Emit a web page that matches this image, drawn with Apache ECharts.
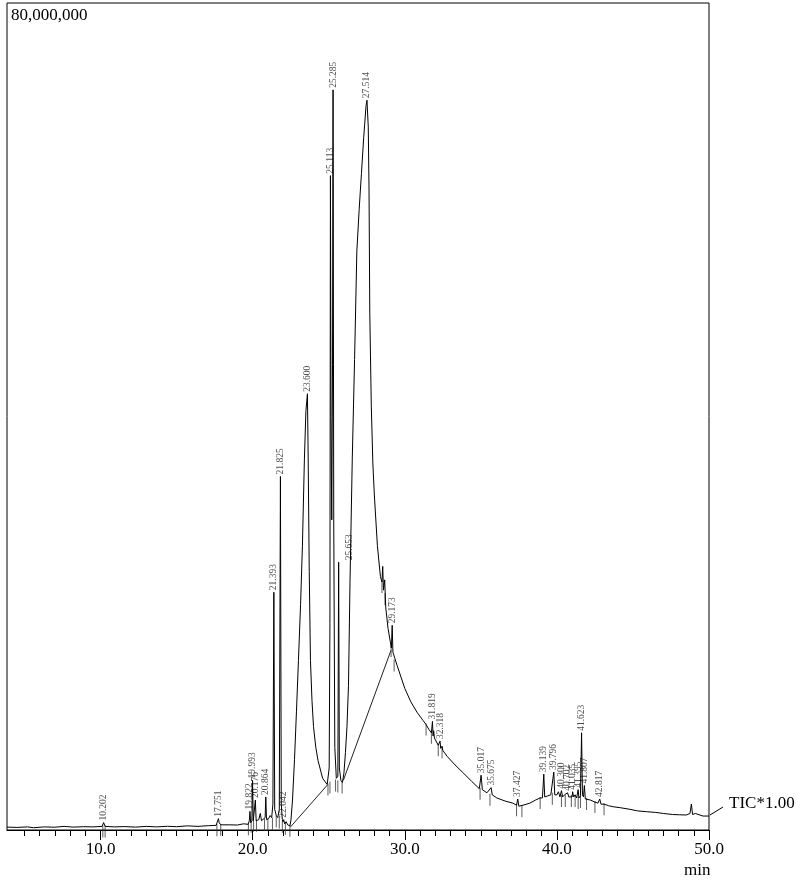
<!DOCTYPE html>
<html>
<head>
<meta charset="utf-8">
<style>
  html, body { margin: 0; padding: 0; background: #fff; }
  #chart { width: 800px; height: 887px; }
</style>
<script src="https://cdn.jsdelivr.net/npm/echarts@6/dist/echarts.min.js"></script>
</head>
<body>
<div id="chart"></div>
<script>
// TIC trace, retention time (min) vs abundance (millions of counts)
const TIC_TIME = [
  3.85, 4.5, 5.2, 5.6, 6.3, 7.0, 7.6, 8.2, 8.9, 9.5, 10.1, 10.202, 10.3, 10.9, 11.6, 12.3, 13.0, 13.7, 14.4, 15.0,
  15.7, 16.4, 17.1, 17.6, 17.7, 17.751, 17.8, 17.9, 18.5, 19.0, 19.4, 19.7, 19.78, 19.822, 19.87, 19.95, 19.993, 20.04, 20.12, 20.176,
  20.23, 20.4, 20.5, 20.58, 20.7, 20.82, 20.864, 20.91, 21.05, 21.15, 21.25, 21.33, 21.393, 21.45, 21.55, 21.65, 21.75, 21.825, 21.88, 21.95,
  22.0, 22.042, 22.1, 22.2, 22.3, 22.45, 22.52, 22.62, 22.75, 22.88, 23.01, 23.15, 23.27, 23.4, 23.5, 23.6, 23.65, 23.72, 23.8, 23.9,
  24.0, 24.15, 24.3, 24.6, 24.9, 25.03, 25.08, 25.113, 25.15, 25.2, 25.25, 25.285, 25.33, 25.4, 25.5, 25.6, 25.653, 25.7, 25.8, 25.9, 26.0,
  26.1, 26.2, 26.3, 26.4, 26.55, 26.7, 26.85, 27.0, 27.15, 27.3, 27.45, 27.514, 27.6, 27.65, 27.7, 27.8, 27.9, 28.0, 28.2, 28.4,
  28.5, 28.55, 28.6, 28.68, 28.75, 28.9, 29.05, 29.12, 29.173, 29.22, 29.35, 29.5, 29.75, 30.0, 30.4, 30.8, 31.2, 31.4, 31.6, 31.75,
  31.819, 31.86, 31.9, 31.95, 32.2, 32.318, 32.36, 32.45, 32.5, 32.8, 33.3, 33.86, 34.4, 34.9, 35.017, 35.1, 35.4, 35.675, 35.75, 36.05,
  36.6, 37.1, 37.35, 37.427, 37.5, 37.6, 37.9, 38.23, 38.6, 38.9, 39.05, 39.139, 39.2, 39.4, 39.6, 39.7, 39.796, 39.86, 40.0, 40.1,
  40.2, 40.3, 40.38, 40.5, 40.6, 40.702, 40.78, 40.9, 41.0, 41.035, 41.1, 41.2, 41.3, 41.395, 41.45, 41.55, 41.623, 41.68, 41.75, 41.807,
  41.87, 42.0, 42.2, 42.5, 42.7, 42.817, 42.9, 43.1, 43.4, 43.7, 44.2, 44.8, 45.3, 45.9, 46.5, 47.0, 47.6, 48.07, 48.5, 48.75,
  48.84, 48.92, 49.1, 49.2, 49.6, 50.0
];
const TIC_ABUND = [
  0.28, 0.25, 0.3, 0.22, 0.3, 0.27, 0.35, 0.28, 0.32, 0.3, 0.35, 0.72, 0.35, 0.3, 0.33, 0.28, 0.35, 0.3, 0.36, 0.32,
  0.4, 0.35, 0.42, 0.45, 0.9, 1.1, 0.7, 0.5, 0.5, 0.48, 0.6, 0.55, 0.9, 1.8, 0.7, 0.9, 4.8, 0.9, 1.0, 2.9,
  0.9, 1.0, 1.6, 0.9, 1.0, 1.2, 3.2, 1.0, 1.1, 1.4, 1.2, 2.5, 23.0, 2.0, 1.4, 1.2, 2.0, 34.2, 2.5, 1.0,
  0.8, 1.0, 0.6, 0.8, 0.5, 0.4, 1.0, 2.9, 6.8, 11.5, 16.4, 21.8, 27.4, 35.8, 40.5, 42.2, 36, 25, 16.4, 12.5,
  10, 8, 6.7, 5.0, 4.4, 6, 20, 63.3, 40, 30, 45, 71.6, 30, 8, 5, 5.2, 25.9, 6, 4.8, 4.6, 5.5,
  7.5, 10, 14, 24, 36, 45.5, 56, 60, 63.5, 67, 70, 70.6, 68, 62, 50, 41, 35.5, 32.4, 27.5, 24.5,
  24, 25.5, 23.2, 24.2, 21.5, 19.5, 18.2, 17.6, 19.8, 17.2, 16.6, 15.9, 14.8, 13.7, 12.4, 11.4, 10.6, 10.2, 9.7, 9.4,
  10.5, 9.1, 9.6, 8.9, 8.2, 8.6, 7.9, 8.1, 7.7, 7.1, 6.3, 5.5, 4.7, 4.0, 5.3, 3.9, 3.6, 4.1, 3.4, 3.1,
  2.8, 2.6, 2.4, 3.0, 2.3, 2.3, 2.45, 2.6, 2.9, 3.1, 3.1, 5.4, 3.2, 3.3, 3.4, 3.5, 5.6, 3.4, 3.4, 3.7,
  3.2, 3.8, 3.2, 3.4, 3.3, 3.6, 3.2, 3.3, 3.2, 3.7, 3.2, 3.4, 3.1, 3.9, 3.1, 3.3, 9.4, 3.4, 3.2, 4.3,
  3.0, 3.1, 2.9, 2.7, 2.6, 3.0, 2.5, 2.5, 2.35, 2.25, 2.15, 2.0, 1.85, 1.77, 1.7, 1.6, 1.5, 1.47, 1.45, 1.6,
  2.5, 1.5, 1.6, 1.45, 1.35, 1.35
];

// labelled peaks
const PEAK_RT = [10.202, 17.751, 19.822, 19.993, 20.176, 20.864, 21.393, 21.825, 22.042, 23.600,
  25.113, 25.285, 25.653, 27.514, 29.173, 31.819, 32.318, 35.017, 35.675, 37.427,
  39.139, 39.796, 40.300, 40.702, 41.035, 41.395, 41.623, 41.807, 42.817];
const PEAK_TOP = [0.72, 1.1, 1.8, 4.8, 2.9, 3.2, 23.0, 34.2, 1.0, 42.2,
  63.3, 71.6, 25.9, 70.6, 19.8, 10.5, 8.6, 5.3, 4.1, 3.0,
  5.4, 5.6, 3.8, 3.6, 3.7, 3.9, 9.4, 4.3, 3.0];
const PEAK_NAME = ["10.202", "17.751", "19.822", "19.993", "20.176", "20.864", "21.393", "21.825", "22.042", "23.600",
  "25.113", "25.285", "25.653", "27.514", "29.173", "31.819", "32.318", "35.017", "35.675", "37.427",
  "39.139", "39.796", "40.300", "40.702", "41.035", "41.395", "41.623", "41.807", "42.817"];

// integration start/end marks
const MARK_RT = [10.15, 10.3, 17.65, 17.9, 19.72, 19.9, 20.06, 20.25, 20.78, 21.0, 21.3, 21.55, 21.75, 21.95, 22.15, 22.45,
  24.95, 25.08, 25.45, 25.6, 25.88, 28.5, 28.7, 29.1, 29.3, 31.4, 31.75, 32.2, 32.45,
  34.95, 35.6, 37.35, 37.7, 38.9, 39.7, 40.3, 40.55, 40.95, 41.2, 41.4, 41.55, 41.95, 42.5, 43.1];
const MARK_Y = [0.35, 0.35, 0.45, 0.5, 0.55, 0.8, 0.9, 0.9, 1.0, 1.0, 1.1, 1.3, 1.2, 0.8, 0.6, 0.4,
  4.4, 4.6, 4.8, 4.7, 4.6, 24.0, 22.8, 17.8, 16.4, 10.2, 9.4, 8.2, 8.0,
  4.0, 3.4, 2.4, 2.3, 3.1, 3.5, 3.3, 3.3, 3.3, 3.3, 3.1, 3.2, 3.0, 2.7, 2.5];

// drawn integration baselines
const BASE_FROM = [[22.49, 0.3], [25.96, 4.8]];
const BASE_TO = [[24.91, 4.35], [29.1, 17.4]];

const MINOR_TICKS = [5, 6, 7, 8, 9, 10, 11, 12, 13, 14, 15, 16, 17, 18, 19, 20, 21, 22, 23, 24, 25, 26, 27,
  28, 29, 30, 31, 32, 33, 34, 35, 36, 37, 38, 39, 40, 41, 42, 43, 44, 45, 46, 47, 48, 49];
const MAJOR_TICKS = [10, 20, 30, 40, 50];

const X_MIN = 3.85, X_MAX = 50, Y_MAX = 80;
const SERIF = '"Liberation Serif", "DejaVu Serif", serif';

// label nudges in the rotated text frame
const LABEL_NUDGE = { "25.653": [0, 11] };

const chart = echarts.init(document.getElementById('chart'), null, { renderer: 'canvas' });

const trace = TIC_TIME.map((t, i) => [t, TIC_ABUND[i]]);
const peaks = PEAK_RT.map((t, i) => {
  const item = { value: [t, PEAK_TOP[i]], name: PEAK_NAME[i] };
  if (LABEL_NUDGE[PEAK_NAME[i]]) item.label = { offset: LABEL_NUDGE[PEAK_NAME[i]] };
  return item;
});
const marks = MARK_RT.map((t, i) => [t, MARK_Y[i]]);
const baselines = BASE_FROM.map((p, i) => ({ coords: [p, BASE_TO[i]] }));

chart.setOption({
  animation: false,
  backgroundColor: '#fff',
  grid: {
    left: 7, right: 91, top: 3, bottom: 57,
    show: true, borderColor: '#000', borderWidth: 1, backgroundColor: 'transparent'
  },
  xAxis: [
    {
      type: 'value', min: X_MIN, max: X_MAX, position: 'bottom',
      axisLine: { lineStyle: { color: '#000', width: 1 } },
      axisTick: { show: true, customValues: MINOR_TICKS, length: 6, lineStyle: { color: '#000' } },
      axisLabel: { show: false },
      splitLine: { show: false }
    },
    {
      type: 'value', min: X_MIN, max: X_MAX, position: 'bottom',
      axisLine: { show: false },
      axisTick: { show: true, customValues: MAJOR_TICKS, length: 10, lineStyle: { color: '#000' } },
      axisLabel: {
        customValues: MAJOR_TICKS, margin: 11, color: '#000', fontSize: 17, fontFamily: SERIF,
        formatter: (v) => v.toFixed(1)
      },
      splitLine: { show: false }
    }
  ],
  yAxis: { type: 'value', min: 0, max: Y_MAX, show: false, splitLine: { show: false } },
  series: [
    {
      type: 'line', data: trace, symbol: 'none', silent: true,
      lineStyle: { color: '#000', width: 1 }
    },
    {
      type: 'lines', coordinateSystem: 'cartesian2d', data: baselines, silent: true,
      lineStyle: { color: '#222', width: 1, opacity: 1 }
    },
    {
      type: 'scatter', data: marks, symbol: 'rect', symbolSize: [1, 12], symbolOffset: [0, 5], silent: true,
      itemStyle: { color: '#333' }
    },
    {
      type: 'scatter', data: peaks, symbolSize: 0, silent: true,
      label: {
        show: true, position: 'top', distance: 2, rotate: 90, align: 'left', verticalAlign: 'middle',
        fontSize: 9.5, fontFamily: SERIF, color: '#222',
        formatter: (p) => p.name
      }
    }
  ],
  graphic: [
    { type: 'text', left: 11, top: 7, style: { text: '80,000,000', font: '17px ' + SERIF, fill: '#000' } },
    { type: 'line', shape: { x1: 710, y1: 815, x2: 723, y2: 807 }, style: { stroke: '#000', lineWidth: 1 } },
    { type: 'text', left: 729, top: 795, style: { text: 'TIC*1.00', font: '17px ' + SERIF, fill: '#000' } },
    { type: 'text', left: 684, top: 862, style: { text: 'min', font: '17px ' + SERIF, fill: '#000' } }
  ]
});
</script>
</body>
</html>
